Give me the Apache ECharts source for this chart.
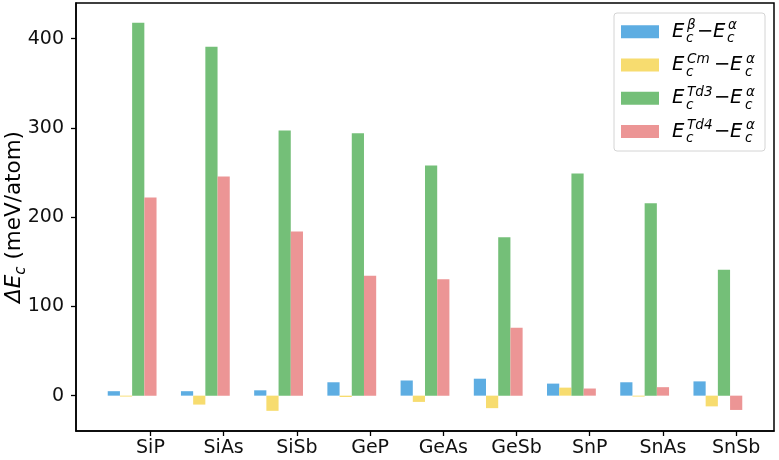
<!DOCTYPE html>
<html>
<head>
<meta charset="utf-8">
<script src="https://cdn.jsdelivr.net/npm/echarts@6/dist/echarts.min.js"></script>
<style>
html,body{margin:0;padding:0;background:#fff;}
#chart{width:779px;height:460px;}
</style>
</head>
<body>
<div id="chart"></div>
<script>
const categories = ['SiP','SiAs','SiSb','GeP','GeAs','GeSb','SnP','SnAs','SnSb'];
const betaVals = [5, 5, 6, 15, 17, 19, 13.5, 15, 16];
const cmVals = [-1, -10, -17, -1.5, -7, -14, 9, -1, -12];
const td3Vals = [418, 391, 297, 294, 258, 177.5, 249, 215.5, 141];
const td4Vals = [222, 245.5, 184, 134.5, 130.5, 76, 8, 9.5, -16];
const yTicks = [0, 100, 200, 300, 400];
const supLabels = ['β', 'Cm', 'Td3', 'Td4'];

const colors = ['#5dade2', '#f7dc6f', '#74bf78', '#ec9595'];
const W = 1 / 6;
const seriesDefs = [
  { name: 'beta', vals: betaVals, off: -3 },
  { name: 'Cm', vals: cmVals, off: -2 },
  { name: 'Td3', vals: td3Vals, off: -1 },
  { name: 'Td4', vals: td4Vals, off: 0 }
];

const series = seriesDefs.map((s, k) => ({
  type: 'custom',
  name: s.name,
  clip: true,
  encode: { x: 0, y: 1 },
  data: s.vals.map((v, i) => [i + s.off * W, v]),
  renderItem: (params, api) => {
    const x = api.value(0), y = api.value(1);
    const a = api.coord([x - W / 2, y]);
    const b = api.coord([x + W / 2, 0]);
    return {
      type: 'rect',
      shape: { x: a[0], y: Math.min(a[1], b[1]), width: b[0] - a[0], height: Math.abs(b[1] - a[1]) },
      style: { fill: colors[k] }
    };
  }
}));

const FF = "'DejaVu Sans'";
const graphic = [];
// y axis title
graphic.push({
  type: 'text',
  x: 14, y: 217,
  rotation: Math.PI / 2,
  style: {
    text: '{e|ΔE}{s|c}{n| (meV/atom)}',
    align: 'center', verticalAlign: 'middle',
    textAlign: 'center', textVerticalAlign: 'middle',
    rich: {
      e: { fontFamily: 'DejaVu Sans', fontStyle: 'italic', fontSize: 21.5, fill: '#000', lineHeight: 30, verticalAlign: 'middle' },
      s: { fontFamily: 'DejaVu Sans', fontStyle: 'italic', fontSize: 15, fill: '#000', lineHeight: 30, verticalAlign: 'bottom' },
      n: { fontFamily: 'DejaVu Sans', fontSize: 21.5, fill: '#000', lineHeight: 30, verticalAlign: 'middle' }
    }
  }
});
// legend box
graphic.push({
  type: 'rect',
  shape: { x: 614, y: 13, width: 151, height: 138, r: 3 },
  style: { fill: 'rgba(255,255,255,0.85)', stroke: '#d4d4d4', lineWidth: 1 }
});
function txt(x, y, s, font) {
  return { type: 'text', x: x, y: y, style: { text: s, font: font, fill: '#000', align: 'left', verticalAlign: 'middle', textAlign: 'left', textVerticalAlign: 'middle' } };
}
const bigF = 'italic 19.5px ' + FF;
const smF = 'italic 13.6px ' + FF;
const upF = '19.5px ' + FF;
supLabels.forEach((lab, k) => {
  const cy = 31.7 + 33.3 * k;
  graphic.push({ type: 'rect', shape: { x: 621, y: cy - 6.5, width: 38, height: 13 }, style: { fill: colors[k] } });
  const xm = k === 0 ? 697 : 714;
  const xe = k === 0 ? 713 : 730;
  const xs = k === 0 ? 727 : 745;
  graphic.push(txt(672, cy, 'E', bigF));
  graphic.push(txt(686, cy + 7, 'c', smF));
  graphic.push(txt(687, cy - 6, lab, smF));
  graphic.push(txt(xm, cy, '−', upF));
  graphic.push(txt(xe, cy, 'E', bigF));
  graphic.push(txt(xs, cy + 7, 'c', smF));
  graphic.push(txt(xs + 1, cy - 6, 'α', smF));
});

const chart = echarts.init(document.getElementById('chart'), null, { renderer: 'canvas' });
chart.setOption({
  animation: false,
  backgroundColor: '#fff',
  grid: { left: 76, right: 5, top: 3, bottom: 29, show: true, borderColor: '#000', borderWidth: 1.5, backgroundColor: 'transparent' },
  xAxis: {
    type: 'value', min: -1.0167, max: 8.5167,
    axisLine: { show: true, onZero: false, lineStyle: { color: '#000', width: 1.5 } },
    axisTick: { show: true, customValues: [0,1,2,3,4,5,6,7,8], length: 5, lineStyle: { color: '#000', width: 1.3 } },
    axisLabel: { customValues: [0,1,2,3,4,5,6,7,8], formatter: v => categories[Math.round(v)] || '', fontSize: 19, fontFamily: 'DejaVu Sans', color: '#111', margin: 8 },
    splitLine: { show: false }
  },
  yAxis: {
    type: 'value', min: -39.6, max: 440,
    axisLine: { show: true, onZero: false, lineStyle: { color: '#000', width: 1.5 } },
    axisTick: { show: true, customValues: yTicks, length: 5, lineStyle: { color: '#000', width: 1.3 } },
    axisLabel: { customValues: yTicks, fontSize: 19, fontFamily: 'DejaVu Sans', color: '#111', margin: 12 },
    splitLine: { show: false }
  },
  series: series,
  graphic: graphic
});
</script>
</body>
</html>
